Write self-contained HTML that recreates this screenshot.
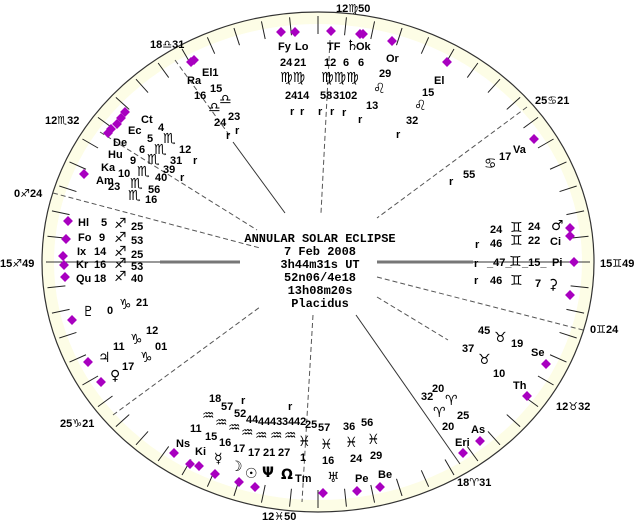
<!DOCTYPE html>
<html><head><meta charset="utf-8"><style>
body{margin:0;background:#fff;width:640px;height:524px;overflow:hidden}
svg text{font-family:"Liberation Sans","DejaVu Sans",sans-serif;font-size:11px;font-weight:bold;fill:#000}
svg text.c{font-family:"Liberation Mono",monospace;font-size:12px;text-anchor:middle}
svg text.g{font-size:14px;font-family:"DejaVu Sans",sans-serif}
</style></head><body>
<svg id="s" width="640" height="524" xmlns="http://www.w3.org/2000/svg">
<ellipse cx="318" cy="262" rx="276" ry="250" fill="#fdfde6" stroke="#333" stroke-width="1.2"/>
<ellipse cx="318" cy="262" rx="264" ry="238" fill="#fff" stroke="none"/>
<g id="ticks" stroke="#222" stroke-width="1"></g>
<g stroke="#333" stroke-width="1" fill="none">
<line x1="47" y1="262" x2="240" y2="262"/><line x1="160" y1="262" x2="240" y2="262" stroke="#777" stroke-width="3"/>
<line x1="400" y1="262" x2="590" y2="262"/><line x1="377" y1="262" x2="473" y2="262" stroke="#777" stroke-width="3"/>
<line x1="356" y1="315" x2="460" y2="464"/>
<line x1="233" y1="142" x2="285" y2="213"/>
<g stroke-dasharray="5,3" stroke="#555">
<line x1="175" y1="60" x2="230" y2="136"/>
<line x1="330" y1="40" x2="321" y2="213"/>
<line x1="100" y1="132" x2="257" y2="230"/>
<line x1="53" y1="193" x2="260" y2="248"/>
<line x1="113" y1="415" x2="260" y2="307"/>
<line x1="313" y1="315" x2="302" y2="502"/>
<line x1="527" y1="107" x2="377" y2="218"/>
<line x1="377" y1="277" x2="583" y2="330"/>
<line x1="377" y1="297" x2="448" y2="340"/>
</g></g>
<g fill="#a800c0" id="dia"></g>
<text class="c" x="320" y="242">ANNULAR SOLAR ECLIPSE</text>
<text class="c" x="320" y="255">7 Feb 2008</text>
<text class="c" x="320" y="268">3h44m31s UT</text>
<text class="c" x="320" y="281">52n06/4e18</text>
<text class="c" x="320" y="294">13h08m20s</text>
<text class="c" x="320" y="307">Placidus</text>
<g id="t"></g>
</svg>
<script>
var ns="http://www.w3.org/2000/svg";
var tk=document.getElementById('ticks');
for(var a=0;a<360;a+=6){var r=a*Math.PI/180,c=Math.cos(r),s=Math.sin(r);
var l=document.createElementNS(ns,'line');
l.setAttribute('x1',318+254*c);l.setAttribute('y1',262+228*s);
l.setAttribute('x2',318+272*c);l.setAttribute('y2',262+246*s);tk.appendChild(l);}
var D=[[281,32],[295,32],[331,31],[360,34],[363,34],[392,41],[447,62],[534,139],[570,228],[570,236],[574,262],[570,295],[546,364],[527,396],[480,441],[463,453],[380,487],[357,491],[323,493],[174,453],[190,464],[199,466],[215,474],[239,482],[255,487],[72,320],[88,362],[101,382],[68,221],[66,239],[63,256],[64,265],[65,277],[125,112],[121,118],[117,124],[111,129],[108,133],[84,174],[191,62],[194,60]];
var dg=document.getElementById('dia');
D.forEach(function(p){var q=document.createElementNS(ns,'rect');q.setAttribute('x',-3.5);q.setAttribute('y',-3.5);q.setAttribute('width',7);q.setAttribute('height',7);q.setAttribute('transform','translate('+p[0]+','+p[1]+') rotate(45)');dg.appendChild(q);});
var T=[
["12♍50",336,12],["18♎31",150,48],["12♏32",45,124],["0♐24",14,197],["15♐49",0,267],["25♑21",60,427],["12♓50",262,520],["18♈31",457,486],["12♉32",556,410],["0♊24",590,333],["15♊49",600,267],["25♋21",535,104],
["Fy",278,50],["Lo",295,50],["24",280,66],["21",294,66],["♍♍",280,82],["24",285,99],["14",297,99],["r",290,115],["r",300,115],
["TF",327,50],["♄",346,50],["Ok",356,50],["12",324,66],["6",343,66],["6",358,66],["♍♍♍",321,82],["58",320,99],["31",333,99],["02",345,99],["r",318,115],["r",330,115],["r",342,116],
["Or",386,62],["29",379,77],["♌",373,93],["13",366,109],["r",358,123],
["El",434,84],["15",422,96],["♌",414,110],["32",406,124],["r",396,138],
["Va",513,153],["17",499,160],["♋",484,168],["55",463,178],["r",449,185],
["24",490,233],["♊",510,232],["24",528,230],["♂",551,230],["r",475,248],["46",490,247],["♊",510,245],["22",528,244],["Ci",550,245],
["r",474,267],["_47_",487,266],["♊",509,266],["_15_",522,266],["Pi",552,266],["r",474,284],["46",490,284],["♊",510,285],["7",535,287],["⚳",548,289],
["45",478,334],["♉",494,342],["19",511,347],["Se",531,356],["37",462,352],["♉",478,364],["10",493,377],["Th",513,389],
["20",432,392],["32",421,400],["♈",445,405],["♈",433,417],["25",457,419],["20",442,430],["As",471,433],["Eri",455,446],
["57",318,431],["36",343,430],["56",361,426],["♓",320,449],["♓",345,447],["♓",367,444],["16",322,464],["24",350,462],["29",370,459],["♅",327,482],["Pe",355,482],["Be",378,478],
["18",209,402],["57",221,410],["52",234,417],["r",241,404],["44",246,423],["44",258,425],["43",270,425],["34",282,425],["r",288,410],["42",294,425],["25",305,428],
["♒",202,420],["♒",215,427],["♒",228,432],["♒",241,437],["♒",255,440],["♒",270,440],["♒",284,440],["♓",298,446],
["11",190,432],["15",205,440],["16",219,446],["17",233,452],["17",248,456],["21",263,456],["27",278,456],["1",300,461],
["Ns",176,447],["Ki",195,455],["☿",214,463],["☽",230,471],["☉",245,478],["Ψ",262,477],["Ω",281,479],["Tm",295,482],
["Hl",78,226],["5",101,226],["♐",114,228],["25",131,230],["Fo",78,241],["9",99,241],["♐",114,242],["53",131,244],
["Ix",77,255],["14",94,255],["♐",114,256],["25",131,258],["Kr",76,268],["16",94,268],["♐",114,268],["53",131,270],
["Qu",76,282],["18",94,282],["♐",114,281],["40",131,282],
["♇",82,316],["0",107,314],["♑",119,309],["21",136,306],["12",146,334],["♃",98,362],["11",113,350],["♑",130,344],["01",155,350],["♀",110,380],["17",122,370],["♑",140,362],
["Ct",141,123],["4",158,131],["Ec",128,134],["5",147,142],["♏",163,143],["12",179,153],["De",113,146],["6",139,153],["♏",154,154],["31",170,164],["r",193,164],
["Hu",108,158],["9",130,164],["♏",147,164],["39",163,173],["Ka",101,171],["10",118,177],["♏",137,176],["40",155,181],["r",180,181],
["Am",96,184],["23",108,190],["♏",130,188],["56",148,193],["♏",128,200],["16",145,203],
["El1",202,76],["Ra",187,84],["15",210,92],["16",194,99],["♎",219,104],["♎",208,112],["24",214,126],["23",228,120],["r",226,139],["r",235,134]
];
var tg=document.getElementById('t');
T.forEach(function(p){var e=document.createElementNS(ns,'text');e.setAttribute('x',p[1]);e.setAttribute('y',p[2]);e.textContent=p[0];
if(/^[^\x00-\x7F]+$/.test(p[0]))e.setAttribute('class','g');tg.appendChild(e);});
</script>
</body></html>
